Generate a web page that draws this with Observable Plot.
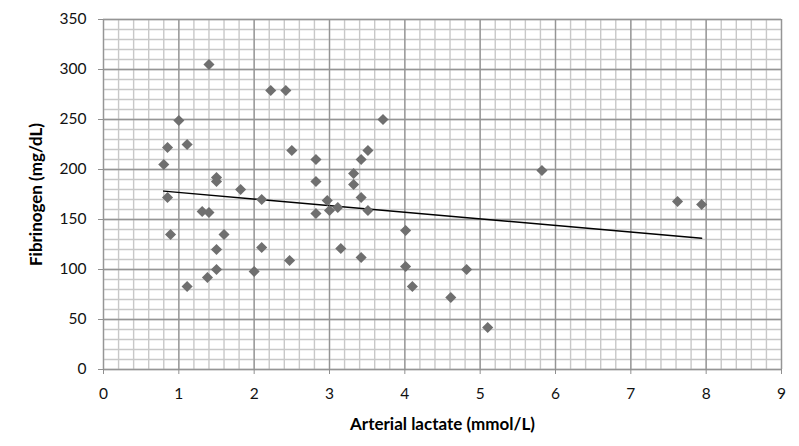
<!DOCTYPE html>
<html>
<head>
<meta charset="utf-8">
<script src="https://cdn.jsdelivr.net/npm/d3@7"></script>
<script src="https://cdn.jsdelivr.net/npm/@observablehq/plot@0.6"></script>
<style>
  html, body { margin: 0; padding: 0; background: #fff; }
  #chart svg { display: block; }
  g[aria-label="x-axis label"] text, g[aria-label="y-axis label"] text { font-weight: bold; fill: #000; font-size: 17px; }
</style>
</head>
<body>
<div id="chart"></div>
<script>
const lactate = [0.8, 0.85, 0.85, 0.89, 1.0, 1.11, 1.11, 1.31, 1.38, 1.4, 1.4, 1.5, 1.5, 1.5, 1.5, 1.6,
  1.82, 2.0, 2.1, 2.1, 2.22, 2.42, 2.47, 2.5, 2.82, 2.82, 2.82, 2.97, 3.0, 3.11, 3.15, 3.32, 3.32,
  3.42, 3.42, 3.42, 3.51, 3.51, 3.71, 4.01, 4.01, 4.1, 4.61, 4.82, 5.1, 5.82, 7.62, 7.94];
const fibrinogen = [205, 222, 172, 135, 249, 225, 83, 158, 92, 305, 157, 192, 188, 120, 100, 135,
  180, 98, 170, 122, 279, 279, 109, 219, 210, 188, 156, 169, 159, 162, 121, 196, 185,
  210, 172, 112, 219, 159, 250, 139, 103, 83, 72, 100, 42, 199, 168, 165];
const xTicks = [0, 1, 2, 3, 4, 5, 6, 7, 8, 9];
const yTicks = [0, 50, 100, 150, 200, 250, 300, 350];
const xMinor = d3.range(0, 9.0001, 0.2).map(v => +v.toFixed(1));
const yMinor = d3.range(0, 351, 10);

const data = lactate.map((x, i) => ({x, y: fibrinogen[i]}));

const chart = Plot.plot({
  width: 799,
  height: 446,
  marginLeft: 103,
  marginRight: 18,
  marginTop: 19,
  marginBottom: 77,
  style: {fontFamily: "Lato, 'Open Sans', sans-serif", fontSize: "15px", color: "#111", background: "#fff"},
  x: {domain: [0, 9]},
  y: {domain: [0, 350]},
  marks: [
    Plot.ruleX(xMinor, {stroke: "#c8c8c8", strokeWidth: 1.4}),
    Plot.ruleY(yMinor, {stroke: "#c8c8c8", strokeWidth: 1.4}),
    Plot.ruleX(xTicks, {stroke: "#959595", strokeWidth: 1.3}),
    Plot.ruleY(yTicks, {stroke: "#959595", strokeWidth: 1.3}),
    Plot.axisX({ticks: xTicks, tickSize: 5, tickPadding: 13, stroke: "#8f8f8f", fontSize: 15.5,
      label: "Arterial lactate (mmol/L)", labelAnchor: "center", labelArrow: "none", labelOffset: 60}),
    Plot.axisY({ticks: yTicks, tickSize: 5, tickPadding: 12, stroke: "#8f8f8f", fontSize: 15.5,
      label: "Fibrinogen (mg/dL)", labelAnchor: "center", labelArrow: "none", labelOffset: 74}),
    Plot.linearRegressionY(data, {x: "x", y: "y", ci: 0, stroke: "#000", strokeWidth: 1.5}),
    Plot.dot(data, {x: "x", y: "y", symbol: "diamond2", r: 5, fill: "#6f6f6f", stroke: "none"})
  ]
});
document.getElementById("chart").appendChild(chart);
</script>
</body>
</html>
